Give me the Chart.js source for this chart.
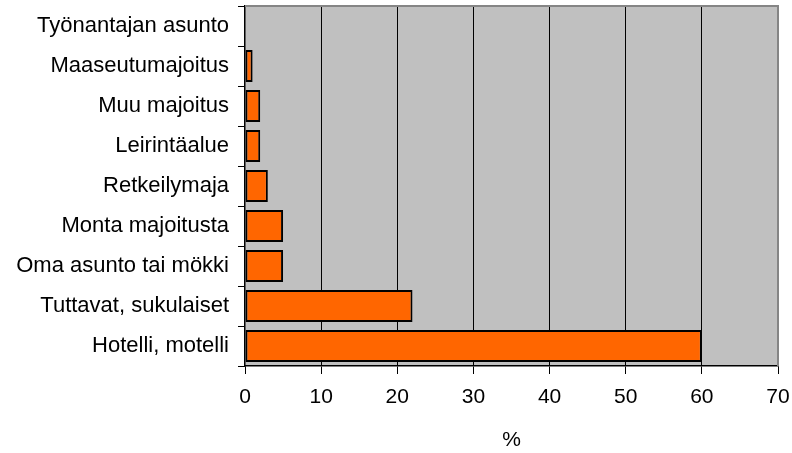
<!DOCTYPE html>
<html>
<head>
<meta charset="utf-8">
<script src="https://cdn.jsdelivr.net/npm/chart.js@4/dist/chart.umd.min.js"></script>
<style>
  html, body { margin: 0; padding: 0; background: #ffffff; }
  #wrap { width: 792px; height: 453px; }
</style>
</head>
<body>
<div id="wrap"><canvas id="chart" width="792" height="453"></canvas></div>
<script>
// Accommodation types, listed top to bottom
const categories = [
  "Työnantajan asunto",
  "Maaseutumajoitus",
  "Muu majoitus",
  "Leirintäalue",
  "Retkeilymaja",
  "Monta majoitusta",
  "Oma asunto tai mökki",
  "Tuttavat, sukulaiset",
  "Hotelli, motelli"
];
// Share of respondents, %
const shares = [0, 1, 2, 2, 3, 5, 5, 22, 60];
const axisMin = 0;
const axisMax = 70;
const axisStep = 10;
const axisTitle = "%";

const FONT = "'Liberation Sans', Arial, sans-serif";

// Grey plot background plus the grey top/right frame
const plotFrame = {
  id: 'plotFrame',
  beforeDraw(chart) {
    const { ctx, chartArea: a } = chart;
    ctx.save();
    ctx.fillStyle = '#c0c0c0';
    ctx.fillRect(a.left, a.top, a.right - a.left, a.bottom - a.top);
    ctx.restore();
  },
  afterDraw(chart) {
    const { ctx, chartArea: a } = chart;
    ctx.save();
    ctx.strokeStyle = '#858585';
    ctx.lineWidth = 2;
    ctx.beginPath();
    ctx.moveTo(a.left, a.top);
    ctx.lineTo(a.right, a.top);
    ctx.lineTo(a.right, a.bottom);
    ctx.stroke();
    ctx.restore();
  }
};

new Chart(document.getElementById('chart'), {
  type: 'bar',
  data: {
    labels: categories,
    datasets: [{
      data: shares,
      backgroundColor: '#ff6600',
      borderColor: '#000000',
      borderWidth: 2,
      borderSkipped: false,
      barPercentage: 0.8,
      categoryPercentage: 1.0
    }]
  },
  options: {
    indexAxis: 'y',
    responsive: false,
    animation: false,
    devicePixelRatio: 1,
    layout: { padding: { left: 0, top: 6, right: 14, bottom: 0 } },
    plugins: {
      legend: { display: false },
      tooltip: { enabled: false }
    },
    scales: {
      x: {
        min: axisMin,
        max: axisMax,
        ticks: {
          stepSize: axisStep,
          color: '#000000',
          padding: 11,
          font: { family: FONT, size: 21 }
        },
        grid: {
          color: (c) => (c.tick && c.tick.value > axisMin && c.tick.value < axisMax) ? '#000000' : 'rgba(0,0,0,0)',
          lineWidth: 1,
          tickColor: '#000000',
          tickLength: 8
        },
        border: { color: '#000000', width: 1.5 },
        title: {
          display: true,
          text: axisTitle,
          color: '#000000',
          font: { family: FONT, size: 21 },
          padding: { top: 4, bottom: 0 }
        },
        afterFit(scale) {
          scale.height = 87;
          scale.paddingLeft = 0;
          scale.paddingRight = 0;
        }
      },
      y: {
        ticks: {
          color: '#000000',
          padding: 9,
          font: { family: FONT, size: 22 }
        },
        grid: {
          drawOnChartArea: false,
          tickColor: '#000000',
          tickLength: 7
        },
        border: { color: '#000000', width: 1.5 },
        afterFit(scale) {
          scale.width = 245;
          scale.paddingTop = 0;
          scale.paddingBottom = 0;
        }
      }
    }
  },
  plugins: [plotFrame]
});
</script>
</body>
</html>
